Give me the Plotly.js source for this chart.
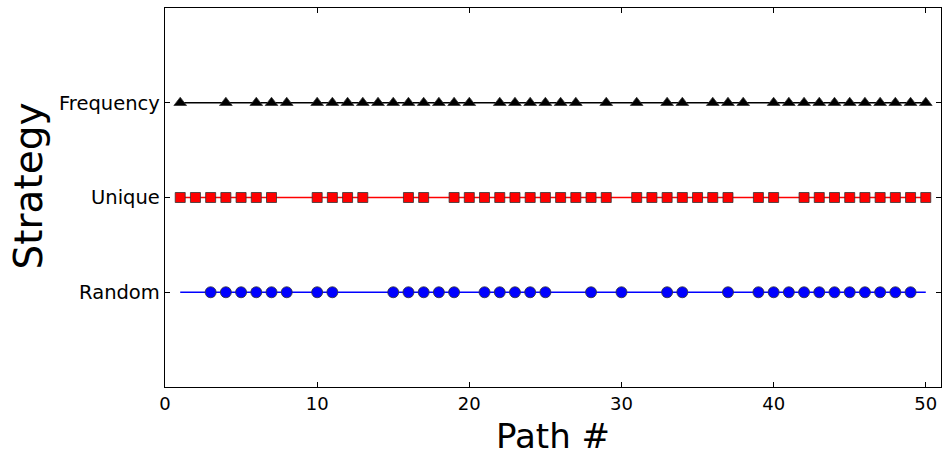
<!DOCTYPE html>
<html>
<head>
<meta charset="utf-8">
<script src="https://cdn.plot.ly/plotly-3.0.1.min.js"></script>
<style>html,body{margin:0;padding:0;background:#fff;}#chart{width:942px;height:457px;}</style>
</head>
<body>
<div id="chart"></div>
<script>
const strategies = ["Random", "Unique", "Frequency"];
const pathSpan = [1, 50];
const randomPaths = [3,4,5,6,7,8,10,11,15,16,17,18,19,21,22,23,24,25,28,30,33,34,37,39,40,41,42,43,44,45,46,47,48,49];
const uniquePaths = [1,2,3,4,5,6,7,10,11,12,13,16,17,19,20,21,22,23,24,25,26,27,28,29,31,32,33,34,35,36,37,39,40,42,43,44,45,46,47,48,49,50];
const frequencyPaths = [1,4,6,7,8,10,11,12,13,14,15,16,17,18,19,20,22,23,24,25,26,27,29,31,33,34,36,37,38,40,41,42,43,44,45,46,47,48,49,50];
const xTicks = [0, 10, 20, 30, 40, 50];

const seriesPaths = [randomPaths, uniquePaths, frequencyPaths];
const colors = ["#0000ff", "#ff0000", "#000000"];
const symbols = ["circle", "square", "triangle-up"];
const sizes = [11, 10, 11];

const traces = [];
strategies.forEach((s, i) => {
  traces.push({
    x: pathSpan, y: pathSpan.map(() => i), mode: "lines",
    line: {color: colors[i], width: 1.4}, hoverinfo: "skip", showlegend: false
  });
  traces.push({
    x: seriesPaths[i], y: seriesPaths[i].map(() => i), mode: "markers",
    marker: {symbol: symbols[i], size: sizes[i], color: colors[i], line: {color: "#333", width: 0.8}},
    showlegend: false, name: s
  });
});

const layout = {
  width: 942, height: 457,
  margin: {l: 165, r: 1, t: 8, b: 70},
  paper_bgcolor: "#fff", plot_bgcolor: "#fff",
  font: {family: "DejaVu Sans", color: "#000"},
  xaxis: {
    range: [0, 51], tickvals: xTicks, ticktext: xTicks.map(String),
    ticks: "inside", ticklen: 5, tickcolor: "#000", tickwidth: 1,
    showline: true, linecolor: "#000", linewidth: 1.3, mirror: "ticks",
    showgrid: false, zeroline: false, tickfont: {size: 18},
    title: {text: "Path #", font: {size: 34}, standoff: 11}
  },
  yaxis: {
    range: [-1, 3], tickvals: [0, 1, 2], ticktext: strategies,
    ticks: "inside", ticklen: 5, tickcolor: "#000", tickwidth: 1,
    showline: true, linecolor: "#000", linewidth: 1.3, mirror: "ticks",
    showgrid: false, zeroline: false, tickfont: {size: 19.5},
    title: {text: ""}
  },
  annotations: [{
    text: "Strategy", xref: "paper", yref: "paper", x: -0.176, xanchor: "center",
    y: 0.53, yanchor: "middle", textangle: -90, showarrow: false,
    font: {size: 39, family: "DejaVu Sans", color: "#000"}
  }]
};

Plotly.newPlot("chart", traces, layout, {displayModeBar: false, staticPlot: true});
</script>
</body>
</html>
